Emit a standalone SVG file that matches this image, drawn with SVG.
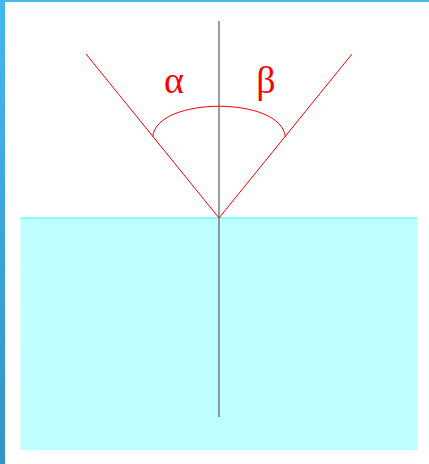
<svg xmlns="http://www.w3.org/2000/svg" width="429" height="464" viewBox="0 0 429 464">
  <defs>
    <linearGradient id="bar" x1="0" y1="0" x2="0" y2="1">
      <stop offset="0" stop-color="#45b8ec"/>
      <stop offset="1" stop-color="#3592c6"/>
    </linearGradient>
    <style>
      .ray{stroke:#ff0000;stroke-width:1;fill:none}
      .lbl{font-family:"Liberation Serif","DejaVu Serif",serif;font-size:38px;fill:#ff0000;text-anchor:middle}
    </style>
  </defs>
  <rect x="0" y="0" width="429" height="464" fill="#ffffff"/>
  <rect x="0" y="0" width="429" height="2" fill="#45b8ec"/>
  <rect x="0" y="0" width="5" height="464" fill="url(#bar)"/>
  <g id="water">
    <rect x="20.5" y="218" width="397" height="232" fill="#c0ffff"/>
    <line x1="20.5" y1="218" x2="417.5" y2="218" stroke="#66ffff" stroke-width="1.5"/>
  </g>
  <g id="normal">
    <line x1="219" y1="21" x2="219" y2="417" stroke="#666666" stroke-width="1.3"/>
  </g>
  <g id="rays">
    <line class="ray" x1="219" y1="218" x2="86" y2="54"/>
    <line class="ray" x1="219" y1="218" x2="352" y2="54"/>
    <path class="ray" d="M152.7,137 C156,96 282,96 285.3,137"/>
  </g>
  <g id="labels">
    <text class="lbl" x="174" y="93">α</text>
    <text class="lbl" x="266" y="93">β</text>
  </g>
</svg>
